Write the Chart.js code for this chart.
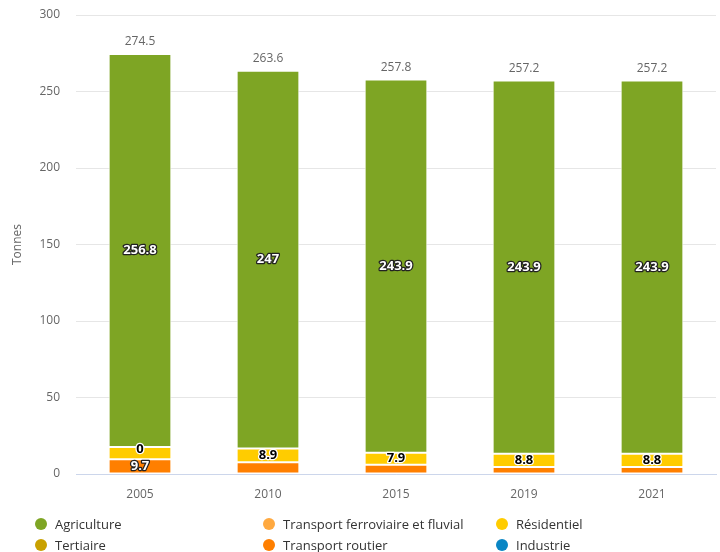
<!DOCTYPE html>
<html lang="fr">
<head>
<meta charset="UTF-8">
<title>Emissions par secteur</title>
<script src="https://cdn.jsdelivr.net/npm/chart.js"></script>
<style>
    body { margin: 0; background: #fff; }
    #wrap { width: 720px; height: 552px; }
</style>
</head>
<body>
<div id="wrap"><canvas id="graph" width="720" height="552"></canvas></div>
<script>
    const annees = ['2005', '2010', '2015', '2019', '2021'];
    const agriculture = [256.8, 247, 243.9, 243.9, 243.9];
    const ferroviaire = [0, null, null, null, null];
    const residentiel = [8.0, 8.9, 7.9, 8.8, 8.8];
    const tertiaire = [null, null, null, null, null];
    const routier = [9.7, 7.7, 6.0, 4.5, 4.5];
    const industrie = [null, null, null, null, null];
    const totaux = [274.5, 263.6, 257.8, 257.2, 257.2];
    const yTicks = [0, 50, 100, 150, 200, 250, 300];

    const police = '"Open Sans", "DejaVu Sans", sans-serif';

    // ordre de la légende (Highcharts empile le premier en haut)
    const series = [
        { label: 'Agriculture', data: agriculture, color: '#7ea524' },
        { label: 'Transport ferroviaire et fluvial', data: ferroviaire, color: '#ffa940' },
        { label: 'Résidentiel', data: residentiel, color: '#ffcc00' },
        { label: 'Tertiaire', data: tertiaire, color: '#c9a100' },
        { label: 'Transport routier', data: routier, color: '#ff7f00' },
        { label: 'Industrie', data: industrie, color: '#0a86c4' }
    ];

    const etiquettes = {
        id: 'etiquettes',
        afterDatasetsDraw(chart) {
            const ctx = chart.ctx;
            const boites = [];
            ctx.save();
            ctx.textAlign = 'center';
            ctx.textBaseline = 'middle';
            ctx.lineJoin = 'round';
            ctx.font = 'bold 13px ' + police;
            // du haut de la pile vers le bas
            const n = chart.data.datasets.length;
            for (let i = n - 1; i >= 0; i--) {
                const ds = chart.data.datasets[i];
                const meta = chart.getDatasetMeta(i);
                meta.data.forEach((bar, j) => {
                    const v = ds.data[j];
                    if (v === null || v === undefined) return;
                    if (v !== 0 && v < 7.8) return;
                    const y = v === 0 ? bar.y + 2 : (bar.y + bar.base) / 2;
                    const txt = String(v);
                    const w = ctx.measureText(txt).width;
                    const b = { x1: bar.x - w / 2, x2: bar.x + w / 2, y1: y - 6, y2: y + 6 };
                    if (boites.some(o => o.x1 < b.x2 && b.x1 < o.x2 && o.y1 < b.y2 && b.y1 < o.y2)) return;
                    boites.push(b);
                    const clair = ds.backgroundColor === '#ffcc00' || v === 0;
                    ctx.lineWidth = 2.5;
                    ctx.strokeStyle = clair ? '#ffffff' : '#222222';
                    ctx.strokeText(txt, bar.x, y);
                    ctx.fillStyle = clair ? '#000000' : '#ffffff';
                    ctx.fillText(txt, bar.x, y);
                });
            }
            // totaux
            const yScale = chart.scales.y;
            const xScale = chart.scales.x;
            ctx.font = '12px ' + police;
            ctx.fillStyle = '#666666';
            totaux.forEach((t, j) => {
                ctx.fillText(String(t), xScale.getPixelForValue(j), yScale.getPixelForValue(t) - 12);
            });
            // légende
            const colonnes = [41, 269, 502];
            const lignes = [524, 545];
            ctx.textAlign = 'left';
            ctx.font = '13px ' + police;
            series.forEach((s, k) => {
                const cx = colonnes[k % 3];
                const cy = lignes[Math.floor(k / 3)];
                ctx.fillStyle = s.color;
                ctx.beginPath();
                ctx.arc(cx, cy, 6, 0, Math.PI * 2);
                ctx.fill();
                ctx.fillStyle = '#333333';
                ctx.fillText(s.label, cx + 14, cy + 1);
            });
            ctx.restore();
        }
    };

    new Chart(document.getElementById('graph'), {
        type: 'bar',
        data: {
            labels: annees,
            datasets: series.slice().reverse().map(s => ({
                label: s.label,
                data: s.data,
                backgroundColor: s.color,
                borderColor: '#ffffff',
                borderWidth: 1,
                borderSkipped: false,
                categoryPercentage: 1,
                barPercentage: 0.49
            }))
        },
        options: {
            responsive: false,
            animation: false,
            layout: { padding: { top: 15, left: 10, right: 4, bottom: 48 } },
            plugins: {
                legend: { display: false },
                tooltip: { enabled: false }
            },
            scales: {
                x: {
                    stacked: true,
                    afterFit: s => { s.height = 30; },
                    grid: { display: false },
                    border: { color: '#ccd6eb' },
                    ticks: { color: '#666666', font: { family: police, size: 12 }, padding: 5 }
                },
                y: {
                    stacked: true,
                    min: 0,
                    max: 300,
                    afterFit: s => { s.width = 66; s.paddingTop = 0; },
                    afterBuildTicks: s => { s.ticks = yTicks.map(v => ({ value: v })); },
                    grid: { color: '#e6e6e6', tickLength: 0 },
                    border: { display: false },
                    ticks: { color: '#666666', font: { family: police, size: 12 }, padding: 16 },
                    title: { display: true, text: 'Tonnes', color: '#666666', font: { family: police, size: 12 }, padding: 0 }
                }
            }
        },
        plugins: [etiquettes]
    });
</script>
</body>
</html>
